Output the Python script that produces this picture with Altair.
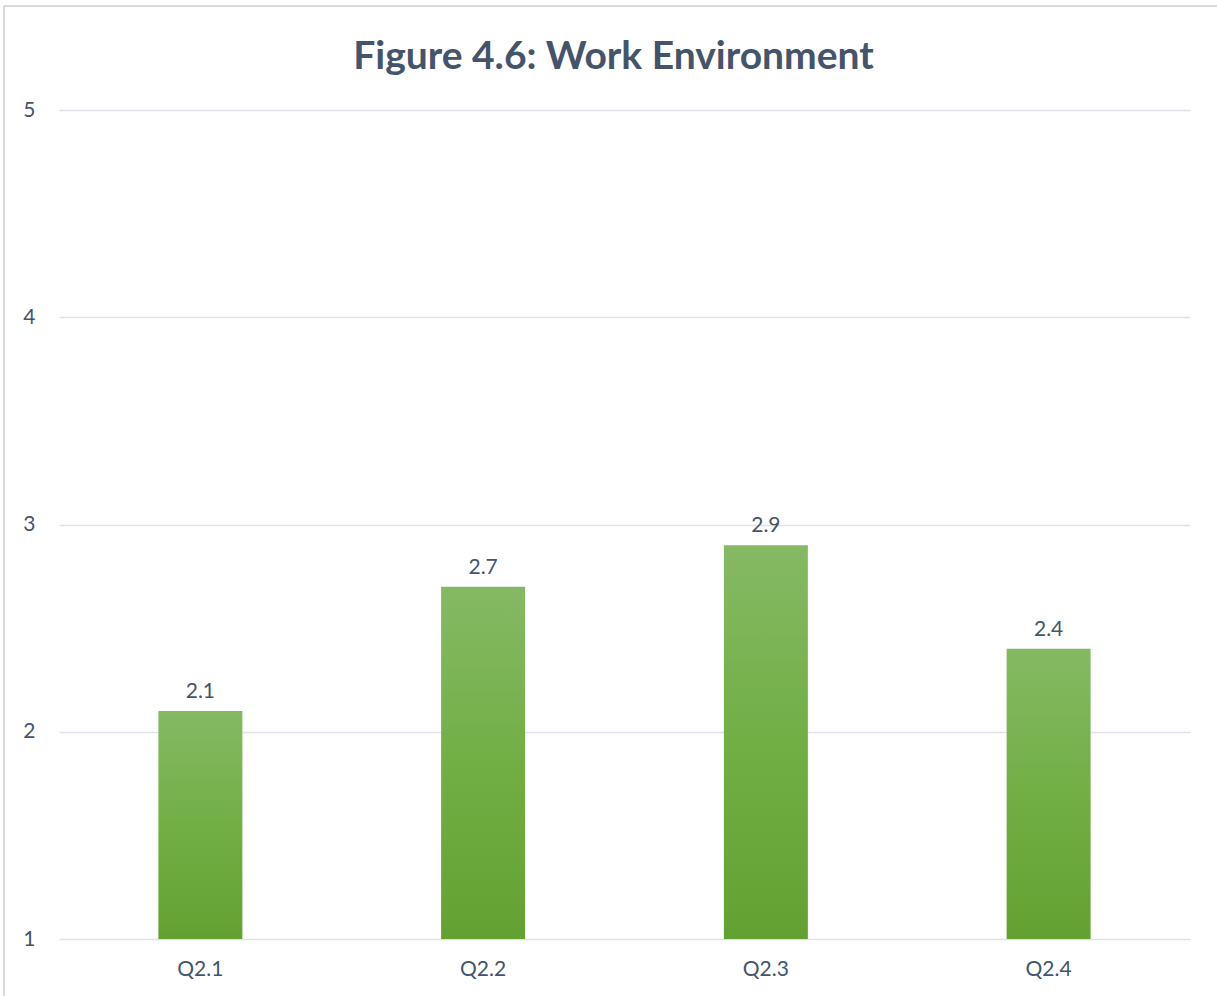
import altair as alt
import pandas as pd

categories = ["Q2.1", "Q2.2", "Q2.3", "Q2.4"]
values = [2.1, 2.7, 2.9, 2.4]
y_ticks = [1, 2, 3, 4, 5]

df = pd.DataFrame({"q": categories, "v": values})

TXT = "#44546A"
FONT = "Lato"

grad = alt.Gradient(
    gradient="linear",
    stops=[
        alt.GradientStop(color="#85B964", offset=0),
        alt.GradientStop(color="#71AF45", offset=0.5),
        alt.GradientStop(color="#62A131", offset=1),
    ],
    x1=0, x2=0, y1=0, y2=1,
)

x = alt.X("q:N", sort=categories,
          scale=alt.Scale(paddingInner=0.703, paddingOuter=0.3515),
          axis=alt.Axis(title=None, labelAngle=0, domain=False, ticks=False,
                        labelPadding=19, labelFontSize=21, labelColor=TXT,
                        labelFont=FONT))
y = alt.Y("v:Q", scale=alt.Scale(domain=[1, 5], nice=False, zero=False),
          axis=alt.Axis(title=None, values=y_ticks, format="d", domain=False, ticks=False,
                        labelPadding=24, labelFontSize=21, labelColor=TXT,
                        labelFont=FONT, gridColor="#DEE2E8", gridWidth=1.5))

bars = alt.Chart(df).mark_bar(color=grad).encode(x=x, y=y, y2=alt.datum(1))
labels = alt.Chart(df).mark_text(baseline="bottom", dy=-9, fontSize=21,
                                 color=TXT, font=FONT).encode(
    x=alt.X("q:N", sort=categories), y="v:Q", text=alt.Text("v:Q", format=".1f"))

border_left = alt.Chart(df).mark_rule(color="#D9D9D9", strokeWidth=1.5, clip=False).encode(
    x=alt.value(-55), y=alt.value(-104), y2=alt.value(886))
border_top = alt.Chart(df).mark_rule(color="#D9D9D9", strokeWidth=1.5, clip=False).encode(
    x=alt.value(-55), x2=alt.value(1160), y=alt.value(-104))

chart = alt.layer(border_left, border_top, bars, labels).properties(
    width=1131, height=829,
    background="white",
    title=alt.TitleParams("Figure 4.6: Work Environment", font=FONT, fontSize=39,
                          fontWeight="bold", color=TXT, anchor="middle", dx=-11,
                          offset=-72),
    autosize=alt.AutoSizeParams(type="none"),
    padding={"left": 59, "top": 110, "right": 27, "bottom": 57},
).configure_view(stroke=None)

chart.save("out.html", embed_options={"renderer": "svg", "actions": False})
